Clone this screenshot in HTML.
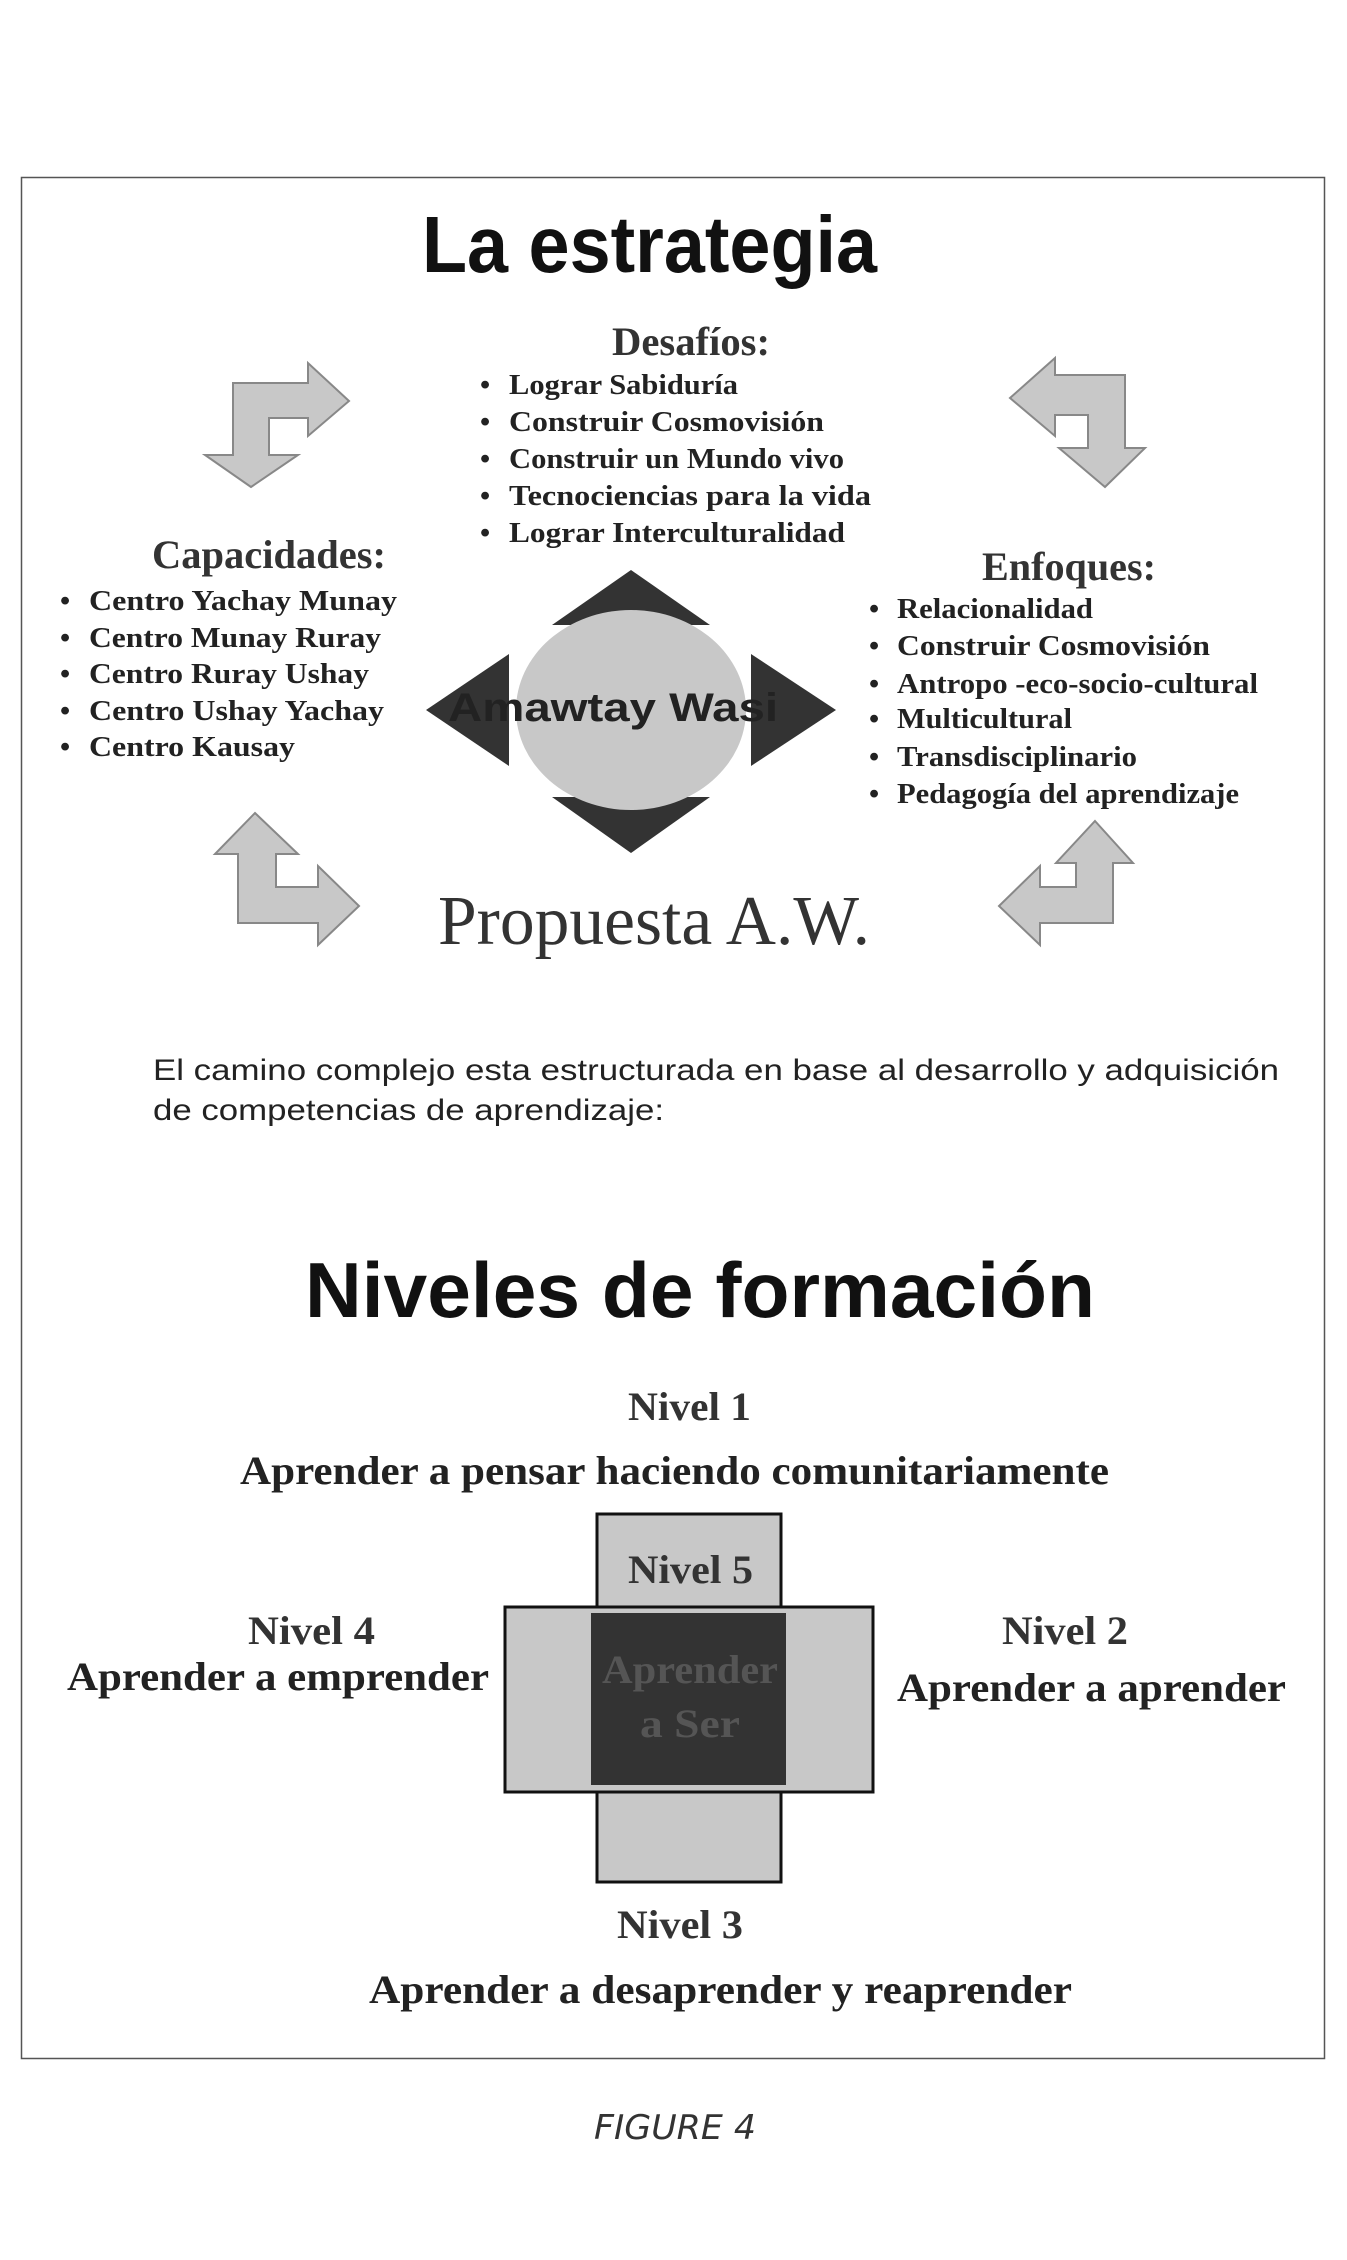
<!DOCTYPE html>
<html><head><meta charset="utf-8"><style>html,body{margin:0;padding:0;background:#fff}svg{display:block}</style></head>
<body>
<svg width="1347" height="2260" viewBox="0 0 1347 2260" xmlns="http://www.w3.org/2000/svg">
<rect x="21.5" y="177.5" width="1303" height="1881" fill="#fff" stroke="#555" stroke-width="1.5"/>
<g font-family="Liberation Sans, sans-serif" font-weight="bold" fill="#111">
<text x="422" y="272" font-size="80" textLength="455" lengthAdjust="spacingAndGlyphs">La estrategia</text>
<text x="305" y="1317" font-size="78" textLength="790" lengthAdjust="spacingAndGlyphs">Niveles de formación</text>
</g>
<g fill="#c8c8c8" stroke="#888" stroke-width="2">
<polygon points="233,383 308,383 308,363 349,401 308,436 308,418 269,418 269,455 298,455 251,487 205,455 233,455"/>
<polygon points="1125,375 1055,375 1055,358 1010,398 1055,436 1055,415 1088,415 1088,448 1059,448 1105,487 1145,448 1125,448"/>
<polygon points="255,813 298,854 276,854 276,887 318,887 318,866 359,906 318,945 318,923 238,923 238,854 215,854"/>
<polygon points="1095,821 1133,863 1113,863 1113,923 1040,923 1040,945 999,906 1040,866 1040,887 1076,887 1076,863 1056,863"/>
</g>
<g fill="#333">
<polygon points="631,570 552,625 710,625"/>
<polygon points="631,853 552,797 710,797"/>
<polygon points="426,710 509,654 509,766"/>
<polygon points="836,710 751,654 751,766"/>
</g>
<ellipse cx="631" cy="710" rx="115" ry="100" fill="#c8c8c8"/>
<text x="448" y="721" font-family="Liberation Sans, sans-serif" font-weight="bold" font-size="40" fill="#222" textLength="330" lengthAdjust="spacingAndGlyphs">Amawtay Wasi</text>
<g font-family="Liberation Serif, serif" font-weight="bold" fill="#333">
<text x="612" y="355" font-size="40" textLength="158" lengthAdjust="spacingAndGlyphs">Desafíos:</text>
<text x="152" y="568" font-size="40" textLength="234" lengthAdjust="spacingAndGlyphs">Capacidades:</text>
<text x="982" y="580" font-size="40" textLength="174" lengthAdjust="spacingAndGlyphs">Enfoques:</text>
</g>
<g font-family="Liberation Serif, serif" font-weight="bold" fill="#222" font-size="29">
<text x="480" y="394">•</text><text x="509" y="394" textLength="229" lengthAdjust="spacingAndGlyphs">Lograr Sabiduría</text>
<text x="480" y="431">•</text><text x="509" y="431" textLength="315" lengthAdjust="spacingAndGlyphs">Construir  Cosmovisión</text>
<text x="480" y="468">•</text><text x="509" y="468" textLength="335" lengthAdjust="spacingAndGlyphs">Construir un Mundo vivo</text>
<text x="480" y="505">•</text><text x="509" y="505" textLength="362" lengthAdjust="spacingAndGlyphs">Tecnociencias   para la vida</text>
<text x="480" y="542">•</text><text x="509" y="542" textLength="336" lengthAdjust="spacingAndGlyphs">Lograr  Interculturalidad</text>

<text x="60" y="610">•</text><text x="89" y="610" textLength="308" lengthAdjust="spacingAndGlyphs">Centro  Yachay Munay</text>
<text x="60" y="647">•</text><text x="89" y="647" textLength="292" lengthAdjust="spacingAndGlyphs">Centro  Munay Ruray</text>
<text x="60" y="683">•</text><text x="89" y="683" textLength="280" lengthAdjust="spacingAndGlyphs">Centro  Ruray Ushay</text>
<text x="60" y="720">•</text><text x="89" y="720" textLength="295" lengthAdjust="spacingAndGlyphs">Centro  Ushay Yachay</text>
<text x="60" y="756">•</text><text x="89" y="756" textLength="206" lengthAdjust="spacingAndGlyphs">Centro  Kausay</text>

<text x="869" y="618">•</text><text x="897" y="618" textLength="196" lengthAdjust="spacingAndGlyphs">Relacionalidad</text>
<text x="869" y="655">•</text><text x="897" y="655" textLength="313" lengthAdjust="spacingAndGlyphs">Construir  Cosmovisión</text>
<text x="869" y="693">•</text><text x="897" y="693" textLength="361" lengthAdjust="spacingAndGlyphs">Antropo -eco-socio-cultural</text>
<text x="869" y="728">•</text><text x="897" y="728" textLength="175" lengthAdjust="spacingAndGlyphs">Multicultural</text>
<text x="869" y="766">•</text><text x="897" y="766" textLength="240" lengthAdjust="spacingAndGlyphs">Transdisciplinario</text>
<text x="869" y="803">•</text><text x="897" y="803" textLength="342" lengthAdjust="spacingAndGlyphs">Pedagogía del aprendizaje</text>
</g>
<text x="438" y="944" font-family="Liberation Serif, serif" font-size="70" fill="#333" textLength="432" lengthAdjust="spacingAndGlyphs">Propuesta A.W.</text>
<g font-family="Liberation Sans, sans-serif" font-size="30" fill="#222">
<text x="153" y="1080" textLength="1126" lengthAdjust="spacingAndGlyphs">El camino complejo esta estructurada en base al desarrollo y adquisición</text>
<text x="153" y="1120" textLength="511" lengthAdjust="spacingAndGlyphs">de competencias de aprendizaje:</text>
</g>
<!-- cross -->
<rect x="597" y="1514" width="184" height="368" fill="#c8c8c8" stroke="#111" stroke-width="3"/>
<rect x="505" y="1607" width="368" height="185" fill="#c8c8c8" stroke="#111" stroke-width="3"/>
<rect x="599" y="1609" width="180" height="181" fill="#c8c8c8"/>
<rect x="591" y="1613" width="195" height="172" fill="#333"/>
<g font-family="Liberation Serif, serif" font-weight="bold">
<text x="628" y="1420" font-size="40" fill="#333" textLength="123" lengthAdjust="spacingAndGlyphs">Nivel 1</text>
<text x="240" y="1484" font-size="40" fill="#222" textLength="869" lengthAdjust="spacingAndGlyphs">Aprender a pensar haciendo comunitariamente</text>
<text x="628" y="1583" font-size="40" fill="#333" textLength="125" lengthAdjust="spacingAndGlyphs">Nivel 5</text>
<text x="602" y="1683" font-size="40" fill="#555" textLength="176" lengthAdjust="spacingAndGlyphs">Aprender</text>
<text x="640" y="1737" font-size="40" fill="#555" textLength="100" lengthAdjust="spacingAndGlyphs">a Ser</text>
<text x="248" y="1644" font-size="40" fill="#333" textLength="127" lengthAdjust="spacingAndGlyphs">Nivel 4</text>
<text x="67" y="1690" font-size="40" fill="#222" textLength="422" lengthAdjust="spacingAndGlyphs">Aprender a emprender</text>
<text x="1002" y="1644" font-size="40" fill="#333" textLength="126" lengthAdjust="spacingAndGlyphs">Nivel 2</text>
<text x="897" y="1701" font-size="40" fill="#222" textLength="389" lengthAdjust="spacingAndGlyphs">Aprender a aprender</text>
<text x="617" y="1938" font-size="40" fill="#333" textLength="126" lengthAdjust="spacingAndGlyphs">Nivel 3</text>
<text x="369" y="2003" font-size="40" fill="#222" textLength="703" lengthAdjust="spacingAndGlyphs">Aprender a desaprender y reaprender</text>
</g>
<text x="594" y="2139" font-family="DejaVu Sans, sans-serif" font-style="italic" font-size="34" fill="#333" textLength="162" lengthAdjust="spacingAndGlyphs">FIGURE 4</text>
</svg>
</body></html>
